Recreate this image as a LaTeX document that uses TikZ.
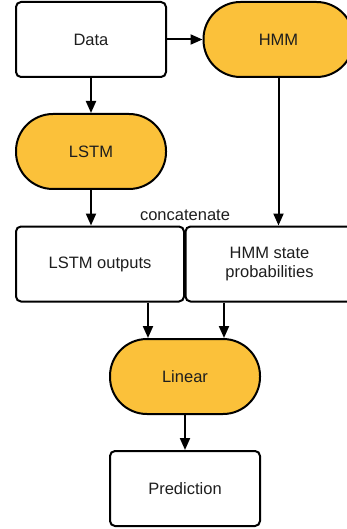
\documentclass[tikz,border=0pt]{standalone}
\usepackage{fontspec}
\setmainfont{Liberation Sans}
\usetikzlibrary{arrows.meta}
\definecolor{pillyellow}{RGB}{251,193,58}
\definecolor{txtgrey}{RGB}{30,30,30}
\tikzset{
  box/.style={draw, line width=2pt, rounded corners=5pt, minimum height=75pt,
    minimum width=150pt, inner sep=0pt, align=center, text=txtgrey,
    font=\fontsize{16.5}{19}\selectfont},
  pill/.style={box, fill=pillyellow, rounded corners=37pt},
  arr/.style={line width=2pt, -{Triangle[length=12pt,width=10pt]}}
}
\begin{document}
\begin{tikzpicture}[x=1pt,y=-1pt]
  \useasboundingbox (0,0) rectangle (346,529);
  % Eingaben
  \node[box] (data) at (91,39.5) {Data};
  \node[pill] (hmm) at (278.5,39.5) {HMM};
  \node[pill] (lstm) at (91,151.5) {LSTM};

  % Verkettung
  \node[box, minimum width=168pt] (lstmout) at (100,264) {LSTM outputs};
  \node[box, minimum width=168pt] (hmmprob) at (269.5,264) {HMM state\\probabilities};
  \node[text=txtgrey, font=\fontsize{16.5}{19}\selectfont] (concat) at (185,215) {concatenate};

  % Ausgabe
  \node[pill] (linear) at (185,376.5) {Linear};
  \node[box] (pred) at (185,488.5) {Prediction};

  \coordinate (inl) at ([xshift=-37pt]linear.north);
  \coordinate (inr) at ([xshift=39pt]linear.north);

  \draw[arr] (data) -- (hmm);
  \draw[arr] (data) -- (lstm);
  \draw[arr] (lstm) -- (lstm |- lstmout.north);
  \draw[arr] (hmm) -- (hmm |- hmmprob.north);
  \draw[arr] (lstmout.south -| inl) -- (inl);
  \draw[arr] (hmmprob.south -| inr) -- (inr);
  \draw[arr] (linear) -- (pred);
\end{tikzpicture}
\end{document}
